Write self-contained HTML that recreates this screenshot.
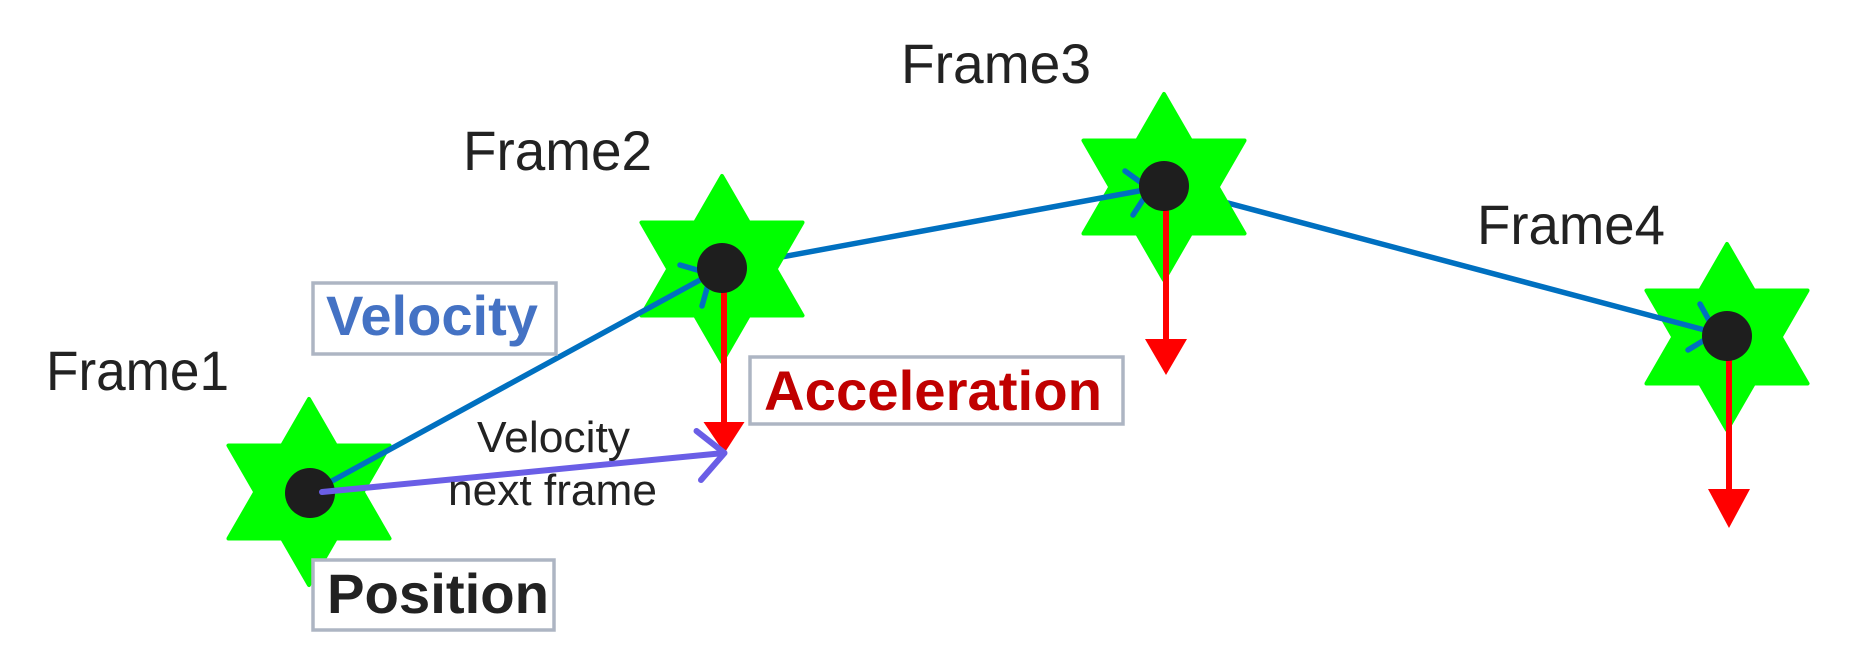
<!DOCTYPE html>
<html>
<head>
<meta charset="utf-8">
<style>
  html, body { margin: 0; padding: 0; background: #ffffff; }
  body { width: 1850px; height: 670px; overflow: hidden; }
  svg { display: block; }
  .frame { font-family: "Liberation Sans", Arial, sans-serif; font-size: 56px; fill: #222222; }
  .bold { font-family: "Liberation Sans", Arial, sans-serif; font-weight: bold; font-size: 56px; }
  .small { font-family: "Liberation Sans", Arial, sans-serif; font-size: 44px; fill: #222222; }
</style>
</head>
<body>
<svg width="1850" height="670" viewBox="0 0 1850 670" xmlns="http://www.w3.org/2000/svg">
  <rect x="0" y="0" width="1850" height="670" fill="#ffffff"/>

  <!-- Star 4 -->
  <polygon transform="translate(1727,337)" fill="#00ff00" stroke="#00ff00" stroke-width="4" stroke-linejoin="round"
    points="0,-93 26.85,-46.5 80.54,-46.5 53.7,0 80.54,46.5 26.85,46.5 0,93 -26.85,46.5 -80.54,46.5 -53.7,0 -80.54,-46.5 -26.85,-46.5"/>

  <!-- Segment 3 (star3 -> star4) -->
  <g stroke="#0070c0" stroke-width="5.5" fill="none" stroke-linecap="round" stroke-linejoin="round">
    <line x1="1164" y1="186" x2="1716" y2="333"/>
    <polyline points="1700,304 1716,333 1688,350"/>
  </g>

  <!-- Star 3 -->
  <polygon transform="translate(1164,187)" fill="#00ff00" stroke="#00ff00" stroke-width="4" stroke-linejoin="round"
    points="0,-93 26.85,-46.5 80.54,-46.5 53.7,0 80.54,46.5 26.85,46.5 0,93 -26.85,46.5 -80.54,46.5 -53.7,0 -80.54,-46.5 -26.85,-46.5"/>

  <!-- Segment 2 (star2 -> star3) -->
  <g stroke="#0070c0" stroke-width="5.5" fill="none" stroke-linecap="round" stroke-linejoin="round">
    <line x1="722" y1="268" x2="1150" y2="189"/>
    <polyline points="1125,171 1150,189 1133,215"/>
  </g>

  <!-- Star 2 -->
  <polygon transform="translate(722,269)" fill="#00ff00" stroke="#00ff00" stroke-width="4" stroke-linejoin="round"
    points="0,-93 26.85,-46.5 80.54,-46.5 53.7,0 80.54,46.5 26.85,46.5 0,93 -26.85,46.5 -80.54,46.5 -53.7,0 -80.54,-46.5 -26.85,-46.5"/>

  <!-- Star 1 -->
  <polygon transform="translate(309,492)" fill="#00ff00" stroke="#00ff00" stroke-width="4" stroke-linejoin="round"
    points="0,-93 26.85,-46.5 80.54,-46.5 53.7,0 80.54,46.5 26.85,46.5 0,93 -26.85,46.5 -80.54,46.5 -53.7,0 -80.54,-46.5 -26.85,-46.5"/>

  <!-- Segment 1 (star1 -> star2) -->
  <g stroke="#0070c0" stroke-width="5.5" fill="none" stroke-linecap="round" stroke-linejoin="round">
    <line x1="310" y1="493" x2="711" y2="274"/>
    <polyline points="680,265 711,274 702,306"/>
  </g>

  <!-- Red acceleration arrows -->
  <g stroke="#ff0000" stroke-width="6">
    <line x1="724" y1="268" x2="724" y2="424"/>
    <line x1="1166" y1="186" x2="1166" y2="341"/>
    <line x1="1729" y1="336" x2="1729" y2="491"/>
  </g>
  <g fill="#ff0000">
    <polygon points="703.5,422 744.5,422 724.5,453"/>
    <polygon points="1145,339 1187,339 1166,375"/>
    <polygon points="1708,489 1750,489 1729,528"/>
  </g>

  <!-- Dots -->
  <g fill="#1e1e1e">
    <circle cx="310" cy="493" r="25"/>
    <circle cx="722" cy="268" r="25"/>
    <circle cx="1164" cy="186" r="25"/>
    <circle cx="1727" cy="336" r="25"/>
  </g>

  <!-- Purple "velocity next frame" arrow -->
  <g stroke="#6a5ee6" stroke-width="6" fill="none" stroke-linecap="round" stroke-linejoin="round">
    <line x1="322" y1="492" x2="724" y2="453"/>
    <polyline points="696.5,431 724.5,453 701,480"/>
  </g>

  <!-- Boxes -->
  <g fill="#ffffff" stroke="#adb5c3" stroke-width="3.5">
    <rect x="313" y="283" width="243" height="71"/>
    <rect x="313" y="560" width="241" height="70"/>
    <rect x="750" y="357" width="373" height="67"/>
  </g>

  <!-- Box labels -->
  <text class="bold" x="326" y="335" fill="#4472c4" font-size="55" textLength="212" lengthAdjust="spacingAndGlyphs">Velocity</text>
  <text class="bold" x="327" y="613" fill="#222222" textLength="222" lengthAdjust="spacingAndGlyphs">Position</text>
  <text class="bold" x="764" y="410" fill="#c00000" textLength="338" lengthAdjust="spacingAndGlyphs">Acceleration</text>

  <!-- Small labels -->
  <text class="small" x="477" y="452" textLength="153" lengthAdjust="spacingAndGlyphs">Velocity</text>
  <text class="small" x="448" y="505" textLength="209" lengthAdjust="spacingAndGlyphs">next frame</text>

  <!-- Frame labels -->
  <text class="frame" x="46" y="390" textLength="183" lengthAdjust="spacingAndGlyphs">Frame1</text>
  <text class="frame" x="463" y="170" textLength="189" lengthAdjust="spacingAndGlyphs">Frame2</text>
  <text class="frame" x="901" y="83" textLength="190" lengthAdjust="spacingAndGlyphs">Frame3</text>
  <text class="frame" x="1477" y="244" textLength="188" lengthAdjust="spacingAndGlyphs">Frame4</text>
</svg>
</body>
</html>
